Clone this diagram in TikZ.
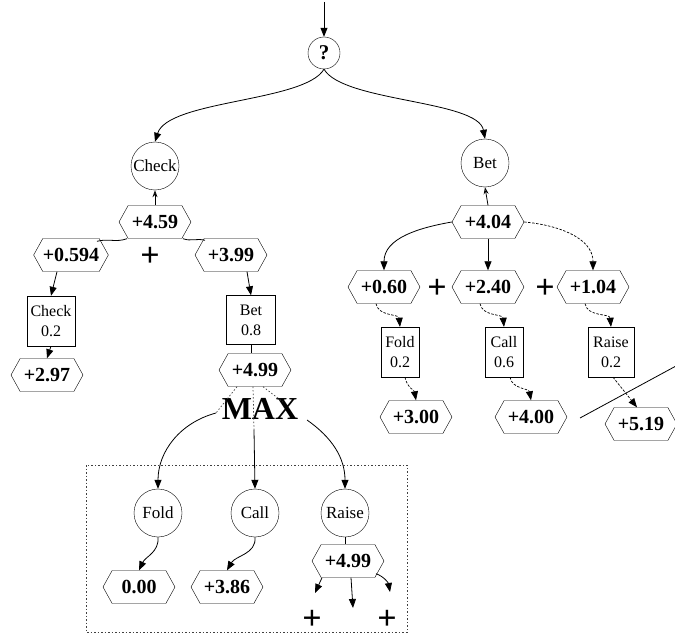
\documentclass[tikz,border=0pt]{standalone}
\usepackage{fontspec}
\setmainfont{Liberation Serif}
\usetikzlibrary{arrows.meta,shapes.symbols,calc}

\tikzset{
  val/.style={draw, signal, signal to=east and west, signal pointer angle=122,
    minimum width=72pt, minimum height=33pt, inner sep=0pt,
    font=\fontsize{20}{22}\selectfont\bfseries},
  act/.style={draw, circle, minimum size=48pt, inner sep=0pt,
    font=\fontsize{17}{19}\selectfont},
  prob/.style={draw, rectangle, minimum width=38pt, minimum height=50pt,
    inner xsep=2pt, align=center, font=\fontsize{16}{20}\selectfont},
  plus/.style={inner sep=0pt, font=\fontsize{34}{34}\selectfont\bfseries},
  arr/.style={-{Triangle[length=9pt,width=7pt]}, line width=0.8pt},
  link/.style={line width=0.8pt},
  backlink/.style={-{Stealth[open,length=7pt,width=5pt]}, line width=0.8pt},
  weak/.style={line width=0.7pt, dash pattern=on 2.5pt off 1.5pt},
  faint/.style={line width=0.7pt, dash pattern=on 1.5pt off 2pt, black!75},
}

\begin{document}
\begin{tikzpicture}[x=1pt, y=-1pt]
\useasboundingbox (0,0) rectangle (675,639);

% root decision
\coordinate (in) at (324,2);
\node[draw, circle, minimum size=32pt, inner sep=0pt,
      font=\fontsize{21}{22}\selectfont\bfseries] (q) at (324,53) {?};
\draw[arr] (in) -- (q.north);

% first-level actions
\node[act] (chk) at (155,166) {Check};
\node[act] (bet) at (485,163) {Bet};
\draw[arr] (q.south) .. controls (305,102) and (168,100) .. (chk.north);
\draw[arr] (q.south) .. controls (343,102) and (478,100) .. (bet.north);

% ---------------- Check branch ----------------
\node[val] (v459) at (155,222) {+4.59};
\draw[backlink] (v459.north) -- (chk.south);
\node[val] (v0594) at (71,255) {+0.594};
\node[val] (v399) at (231,255) {+3.99};
\node[plus] (pl1) at (150,257) {+};
\draw[link] ([xshift=-28pt]v459.south) to[out=200,in=15] ([xshift=26pt,yshift=-3pt]v0594.north);
\draw[link] ([xshift=28pt]v459.south) to[out=-20,in=165] ([xshift=-26pt,yshift=-2pt]v399.north);

\node[prob, minimum width=48pt] (pchk) at (51,321) {Check\\0.2};
\node[val] (v297) at (47,375) {+2.97};
\draw[arr] ([xshift=-14pt]v0594.south) -- (pchk.north);
\draw[arr] (pchk.south) -- (v297.north);

\node[prob, minimum width=49pt, minimum height=49pt] (pbet) at (251,320) {Bet\\0.8};
\node[val] (v499) at (255,370) {+4.99};
\draw[arr] ([xshift=16pt]v399.south) -- (pbet.north);
\draw[link] (pbet.south) -- (pbet.south |- v499.north);

% opponent's reply after the bet
\node[font=\fontsize{32}{34}\selectfont\bfseries, inner sep=0pt] (max) at (260,409) {MAX};
\coordinate (mL) at (216,413);
\coordinate (mC) at (254,430);
\coordinate (mR) at (307,420);

\node[act] (fold) at (158,513) {Fold};
\node[act] (call) at (255,513) {Call};
\node[act] (rais) at (345,513) {Raise};

\draw[faint] ([xshift=-18pt]v499.south) -- (mL);
\draw[faint] ([xshift=-2pt]v499.south) -- (mC);
\draw[faint] ([xshift=8pt]v499.south) -- ($(mR)+(-24,-18)$);

\draw[arr] (mL) to[out=195,in=90] (fold.north);
\draw[arr] (mC) -- (call.north);
\draw[arr] (mR) to[out=-35,in=90] (rais.north);

\node[val] (v000) at (139,587) {0.00};
\node[val] (v386) at (227,587) {+3.86};
\node[val] (v499b) at (348,561) {+4.99};
\draw[arr] (fold.south) to[out=-85,in=65] (v000.north);
\draw[arr] (call.south) to[out=-85,in=60] (v386.north);
\draw[link] (rais.south) -- (rais.south |- v499b.north);

\coordinate (dL) at (315,593);
\coordinate (dC) at (353,608);
\coordinate (dR) at (390,592);
\draw[arr] ([xshift=-26pt]v499b.south) -- (dL);
\draw[arr] ([xshift=3pt]v499b.south) -- (dC);
\draw[arr] ([xshift=28pt, yshift=4pt]v499b.south) to[out=-20,in=100] (dR);
\node[plus] (pl5) at (312,620) {+};
\node[plus] (pl6) at (387,620) {+};

% frame round the reply subtree
\draw[faint] (86,465) rectangle (407,632);

% ---------------- Bet branch ----------------
\node[val] (v404) at (488,222) {+4.04};
\draw[backlink] (v404.north) -- (bet.south);

\node[val] (v060) at (384,287) {+0.60};
\node[val] (v240) at (488,287) {+2.40};
\node[val] (v104) at (593,287) {+1.04};
\node[plus] (pl2) at (437,289) {+};
\node[plus] (pl3) at (545,289) {+};

\draw[arr] (v404.west) to[out=190,in=90] (v060.north);
\draw[arr] (v404.south) -- (v240.north);
\draw[arr, weak] (v404.east) to[out=-5,in=90] (v104.north);

\node[prob] (pfold) at (400,352) {Fold\\0.2};
\node[prob] (pcall) at (504,352) {Call\\0.6};
\node[prob, minimum width=46pt] (prais) at (611,352) {Raise\\0.2};

\draw[arr, weak] ([xshift=-8pt]v060.south) to[out=-80,in=95] (pfold.north);
\draw[arr, weak] ([xshift=-8pt]v240.south) to[out=-80,in=95] (pcall.north);
\draw[arr, weak] ([xshift=-8pt]v104.south) to[out=-80,in=95] (prais.north);

\node[val] (v300) at (416,417) {+3.00};
\node[val] (v400) at (531,417) {+4.00};
\node[val] (v519) at (641,424) {+5.19};

\draw[arr, weak] ([xshift=5pt]pfold.south) to[out=-80,in=100] (v300.north);
\draw[arr, weak] ([xshift=6pt]pcall.south) to[out=-80,in=100] (v400.north);
\draw[arr, weak] ([xshift=2pt]prais.south) -- ([xshift=-4pt]v519.north);

% strike-through line by the raise outcome
\coordinate (s1) at (580,418);
\coordinate (s2) at (676,366);
\draw[link] (s1) -- (s2);
\end{tikzpicture}
\end{document}
